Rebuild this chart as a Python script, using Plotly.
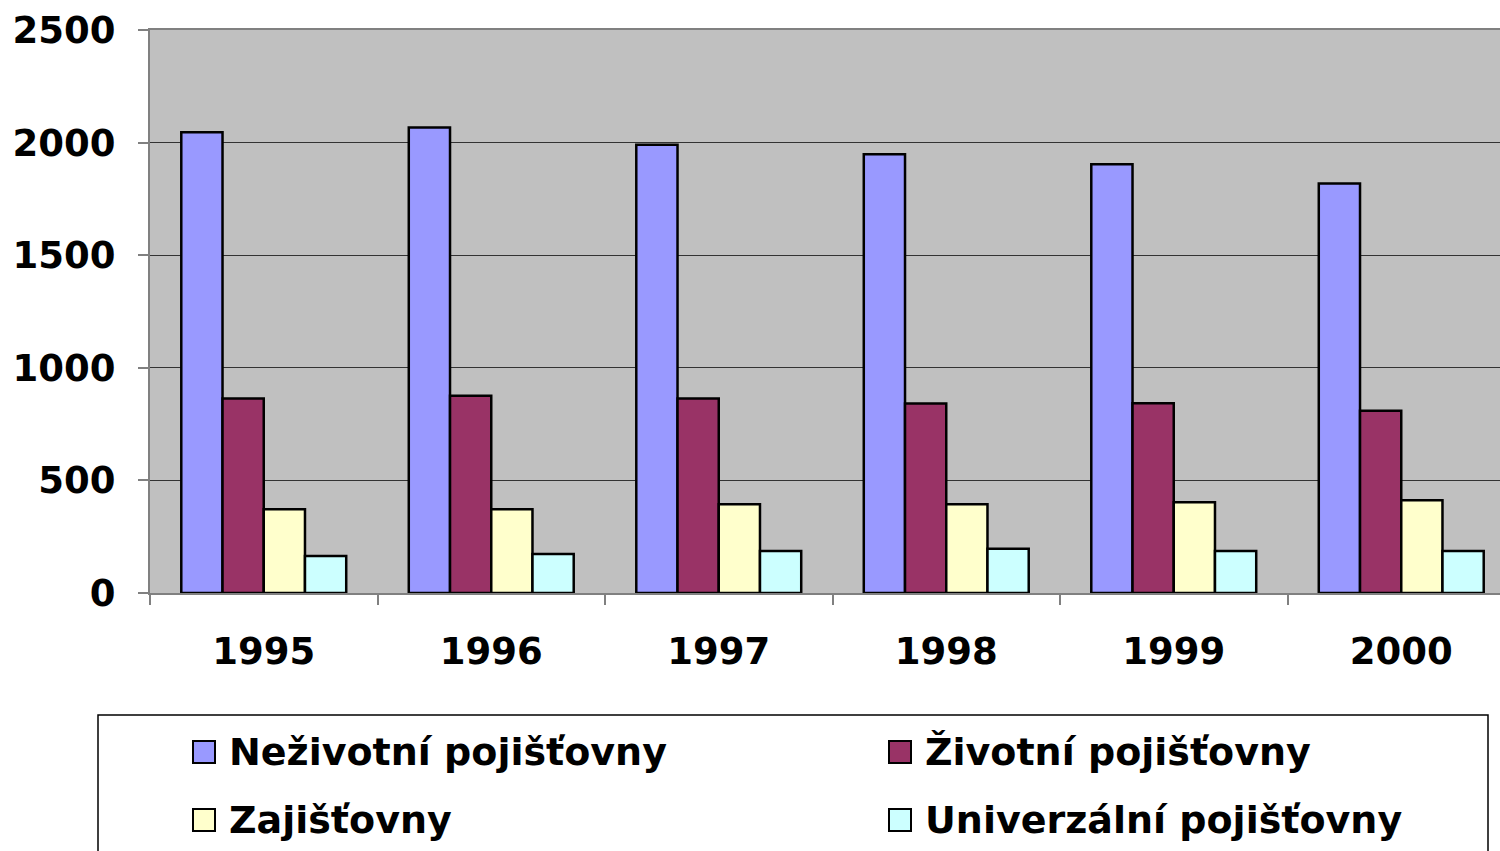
import plotly.graph_objects as go

years = ["1995", "1996", "1997", "1998", "1999", "2000"]
nezivotni = [2046, 2067, 1991, 1948, 1904, 1818]
zivotni = [864, 876, 864, 841, 843, 809]
zajistovny = [372, 372, 394, 394, 403, 412]
univerzalni = [164, 173, 187, 196, 187, 187]

series_names = ["Neživotní pojišťovny", "Životní pojišťovny", "Zajišťovny", "Univerzální pojišťovny"]
series_values = [nezivotni, zivotni, zajistovny, univerzalni]
series_colors = ["#9999FF", "#993366", "#FFFFCC", "#CCFFFF"]
y_ticks = [0, 500, 1000, 1500, 2000, 2500]

FONT = "DejaVu Sans"
W, H = 1500, 851
L, R, T, B = 150, 0, 30, 258
PW, PH = W - L - R, H - T - B
GROUP_PX = 227.5

fig = go.Figure()
for name, vals, col in zip(series_names, series_values, series_colors):
    fig.add_trace(go.Bar(
        x=years, y=vals, name=name,
        marker=dict(color=col, line=dict(color="black", width=2.5)),
        showlegend=False,
    ))

def px_x(px):
    return (px - L) / PW

def px_y(py):
    return (H - B - py) / PH

# legend frame
fig.add_shape(type="rect", xref="paper", yref="paper",
              x0=px_x(98), x1=px_x(1488), y0=px_y(870), y1=px_y(715),
              line=dict(color="black", width=1.5), fillcolor="white", layer="below")

legend_pos = [(193, 752), (889, 752), (193, 820), (889, 820)]
for (lx, ly), name, col in zip(legend_pos, series_names, series_colors):
    fig.add_shape(type="rect", xref="paper", yref="paper",
                  x0=px_x(lx), x1=px_x(lx + 22), y0=px_y(ly + 11), y1=px_y(ly - 11),
                  line=dict(color="black", width=2), fillcolor=col)
    fig.add_annotation(xref="paper", yref="paper", x=px_x(lx + 34), y=px_y(ly),
                       text=f"<b>{name}</b>", showarrow=False, xanchor="left", yanchor="middle",
                       font=dict(family=FONT, size=38, color="black"))

fig.update_layout(
    width=W, height=H,
    margin=dict(l=L, r=R, t=T, b=B, pad=0),
    plot_bgcolor="#C0C0C0", paper_bgcolor="white",
    barmode="group", bargap=0.275, bargroupgap=0,
    font=dict(family=FONT, size=37, color="black"),
    showlegend=False,
)
fig.update_xaxes(
    type="category", range=[-0.5, -0.5 + PW / GROUP_PX],
    tickson="boundaries", ticks="outside", ticklen=10, tickcolor="#808080", tickwidth=2,
    showline=True, linecolor="#808080", linewidth=2, mirror=True,
    showgrid=False,
    tickfont=dict(family=FONT, size=37, color="black", weight="bold"),
    ticklabelstandoff=25,
)
fig.update_yaxes(
    range=[0, 2500], tickvals=y_ticks, ticktext=[str(v) for v in y_ticks],
    ticks="outside", ticklen=10, tickcolor="#808080", tickwidth=2,
    showline=True, linecolor="#808080", linewidth=2, mirror=False,
    showgrid=True, gridcolor="#333333", gridwidth=1, zeroline=False,
    tickfont=dict(family=FONT, size=37, color="black", weight="bold"),
    ticklabelstandoff=15,
)

fig.write_html("out.html",
               config={"displayModeBar": False},
               post_script="document.body.style.margin='0';document.body.style.overflow='hidden';")
